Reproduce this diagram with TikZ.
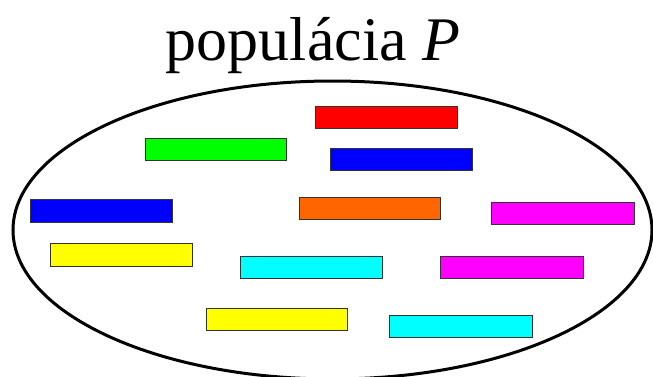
\documentclass[tikz,border=0pt]{standalone}
\usepackage{fontspec}
\setmainfont{Liberation Serif}
\definecolor{cgreen}{RGB}{0,255,0}
\definecolor{cblue}{RGB}{0,0,255}
\definecolor{cred}{RGB}{255,0,0}
\definecolor{corange}{RGB}{255,102,0}
\definecolor{cmagenta}{RGB}{255,0,255}
\definecolor{cyellow}{RGB}{255,255,0}
\definecolor{ccyan}{RGB}{0,255,255}
\begin{document}
\begin{tikzpicture}[x=1pt,y=-1pt,
  bar/.style={draw=black!80, line width=0.8pt},
  popul/.style={draw=black, line width=3pt}]
\useasboundingbox (0,0) rectangle (653,376);
\begin{scope}
\clip (0,0) rectangle (653,376);
\draw[popul] (332.5,230) ellipse [x radius=319.5pt, y radius=149pt];
\end{scope}
\node (title) [anchor=base, inner sep=0pt, font=\fontsize{62}{70}\selectfont] at (313,60) {populácia \textit{P}};
\draw[bar, fill=cred]     (315,106) rectangle (457,128);
\draw[bar, fill=cgreen]   (145,138) rectangle (286,160);
\draw[bar, fill=cblue]    (330,148) rectangle (472,170);
\draw[bar, fill=cblue]    (30,199) rectangle (172,222);
\draw[bar, fill=corange]  (299,197) rectangle (440,219);
\draw[bar, fill=cmagenta] (491,202) rectangle (634,224);
\draw[bar, fill=cyellow]  (50,243) rectangle (192,266);
\draw[bar, fill=ccyan]    (240,256) rectangle (382,278);
\draw[bar, fill=cmagenta] (440,256) rectangle (583,278);
\draw[bar, fill=cyellow]  (206,308) rectangle (347,330);
\draw[bar, fill=ccyan]    (389,315) rectangle (532,337);
\end{tikzpicture}
\end{document}
